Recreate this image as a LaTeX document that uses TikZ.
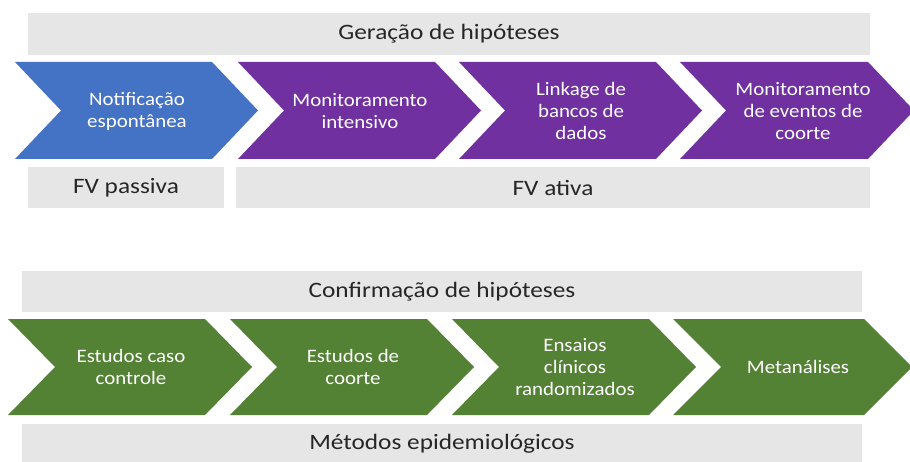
\documentclass[tikz,border=0pt]{standalone}
\usepackage{fontspec}
\setmainfont{Carlito}
\newfontfamily\barfont{Carlito}[FakeStretch=1.15]
\newfontfamily\chevfont{Carlito}[FakeStretch=1.1]
\definecolor{cblue}{HTML}{4472C4}
\definecolor{cpurple}{HTML}{7030A0}
\definecolor{cgreen}{HTML}{548235}
\definecolor{cgray}{HTML}{E7E6E6}
\newcommand{\chevshape}[6]{\fill[#6] (#1,#4) -- (#2,#4) -- (#3,{(#4+#5)/2}) -- (#2,#5) -- (#1,#5) -- ({#1+#3-#2},{(#4+#5)/2}) -- cycle;}
\tikzset{
  bar/.style={fill=cgray, inner sep=0pt, text=black!85, font=\barfont\fontsize{22}{26}\selectfont},
  chevtext/.style={text=white, align=center, inner sep=0pt, font=\chevfont\fontsize{19}{22}\selectfont},
}
\begin{document}
\begin{tikzpicture}[x=1pt,y=-1pt]
\useasboundingbox (0,0) rectangle (910,462);
\clip (0,0) rectangle (910,462);
% top section
\node[bar, minimum width=842pt, minimum height=42pt] (gen) at (449,34) {Geração de hipóteses};
\chevshape{15}{212}{258}{62}{159}{cblue}
\chevshape{238}{435}{481}{62}{159}{cpurple}
\chevshape{459}{656}{702}{62}{159}{cpurple}
\chevshape{680}{868}{914}{62}{159}{cpurple}
\node[chevtext] (t1) at (137,111) {Notificação\\espontânea};
\node[chevtext] (t2) at (360,111) {Monitoramento\\intensivo};
\node[chevtext] (t3) at (581,111) {Linkage de\\bancos de\\dados};
\node[chevtext] (t4) at (803,111) {Monitoramento\\de eventos de\\coorte};
\node[bar, minimum width=196pt, minimum height=41pt] (pas) at (126,187.5) {FV passiva};
\node[bar, minimum width=634pt, minimum height=41pt] (ati) at (553,187.5) {FV ativa};
% bottom section
\node[bar, minimum width=840pt, minimum height=41pt] (conf) at (442,291.5) {Confirmação de hipóteses};
\chevshape{8}{205}{252}{319}{415}{cgreen}
\chevshape{230}{427}{474}{319}{415}{cgreen}
\chevshape{452}{649}{696}{319}{415}{cgreen}
\chevshape{673}{864}{912}{319}{415}{cgreen}
\node[chevtext] (b1) at (131,367) {Estudos caso\\controle};
\node[chevtext] (b2) at (353,367) {Estudos de\\coorte};
\node[chevtext] (b3) at (575,367) {Ensaios\\clínicos\\randomizados};
\node[chevtext] (b4) at (798,367) {Metanálises};
\node[bar, minimum width=840pt, minimum height=40pt] (met) at (442,444) {Métodos epidemiológicos};
\end{tikzpicture}
\end{document}
